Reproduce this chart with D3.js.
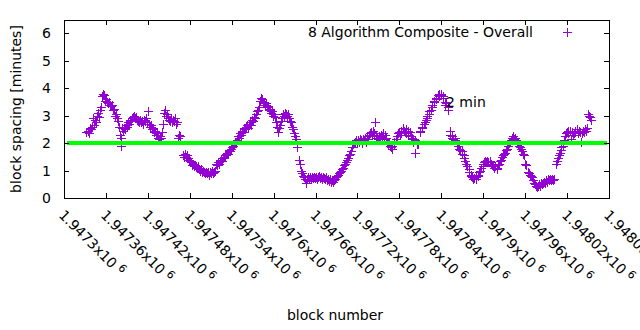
<!DOCTYPE html>
<html>
<head>
<meta charset="utf-8">
<script src="https://cdn.jsdelivr.net/npm/d3@7"></script>
<style>
  html, body { margin: 0; padding: 0; background: #fff; }
  svg { display: block; }
  text { font-family: "DejaVu Sans", sans-serif; fill: #000; }
</style>
</head>
<body>
<svg id="chart" width="640" height="330"></svg>
<script>
// ---------------- data ----------------
const seriesName = "8 Algorithm Composite - Overall";
const refValue = 2;
const refLabel = "2 min";
const xLabel = "block number";
const yLabel = "block spacing [minutes]";

const blocks = [
1947331,1947334,1947336,1947337,1947339,1947340,1947342,1947343,1947344,1947346,
1947347,1947349,1947350,1947352,1947353,1947354,1947356,1947357,1947359,1947360,
1947362,1947363,1947364,1947366,1947367,1947369,1947370,1947372,1947373,1947374,
1947376,1947377,1947379,1947380,1947381,1947382,1947383,1947384,1947386,1947387,
1947389,1947390,1947392,1947393,1947394,1947396,1947397,1947399,1947400,1947402,
1947403,1947404,1947406,1947407,1947409,1947410,1947412,1947413,1947414,1947416,
1947417,1947419,1947420,1947422,1947423,1947425,1947426,1947427,1947429,1947430,
1947432,1947433,1947435,1947436,1947437,1947439,1947440,1947442,1947443,1947445,
1947446,1947447,1947449,1947450,1947452,1947453,1947455,1947456,1947457,1947459,
1947460,1947462,1947463,1947465,1947466,
1947470,1947472,1947473,1947475,1947476,1947477,1947479,1947480,1947482,1947483,
1947485,1947486,1947487,1947489,1947490,1947492,1947493,1947495,1947496,1947498,
1947499,1947500,1947502,1947503,1947505,1947506,1947507,1947509,1947510,1947512,
1947513,1947515,1947516,1947517,1947519,1947520,1947522,1947523,1947525,1947526,
1947527,1947529,1947530,1947532,1947533,1947535,1947536,1947538,1947539,1947540,
1947542,1947543,1947545,1947546,1947548,1947549,1947550,1947552,1947553,1947555,
1947556,1947558,1947559,1947560,1947562,1947563,1947565,1947566,1947568,1947569,
1947570,1947572,1947573,1947575,1947576,1947578,1947579,1947580,1947582,1947583,
1947585,1947586,1947588,1947589,1947591,1947592,1947593,1947595,1947596,1947598,
1947599,1947601,1947602,1947603,1947605,1947606,1947608,1947609,1947611,1947612,
1947614,1947615,1947616,1947618,1947619,1947621,1947622,1947623,1947625,1947626,
1947628,1947629,1947631,1947632,1947633,
1947636,1947638,1947639,1947641,1947642,1947644,1947645,1947646,1947648,1947649,
1947651,1947652,1947654,1947655,1947656,1947658,1947659,1947661,1947662,1947664,
1947665,1947666,1947668,1947669,1947671,1947672,1947674,1947675,1947676,1947678,
1947679,1947681,1947682,1947684,1947685,1947687,1947688,1947689,1947691,1947692,
1947694,1947695,1947697,1947698,1947699,1947701,1947702,1947704,1947705,1947706,
1947708,1947709,1947711,1947712,1947714,1947715,1947716,1947718,1947719,1947721,
1947722,1947724,1947725,1947726,1947728,1947729,1947731,1947732,1947734,1947735,
1947736,1947738,1947739,1947741,1947742,1947743,1947745,1947746,1947748,1947749,
1947751,1947752,1947753,1947755,1947756,1947758,1947759,1947761,1947762,1947763,
1947765,1947766,1947768,1947769,1947770,1947772,1947773,1947775,1947776,1947778,
1947779,1947781,1947782,1947783,1947785,1947786,1947788,1947789,1947790,1947792,
1947793,1947795,1947796,1947798,1947799,1947800,1947802,1947803,1947805,1947806,
1947807,1947809,1947810,1947812,1947813,1947815,1947816,1947818,1947819,1947820,
1947822,1947823,1947825,1947826,1947827,1947829,1947830,1947832,1947833,1947835,
1947836,1947837,1947839,1947840,1947842,1947843,1947845,1947846,1947847,1947849,
1947850,1947852,1947853,1947855,1947856,1947857,1947859,1947860,1947862,1947863,
1947864,1947866,1947867,1947869,1947870,1947872,1947873,1947874,1947876,1947877,
1947879,1947880,1947882,1947883,1947884,1947886,1947887,1947889,1947890,1947892,
1947893,1947894,1947896,1947897,1947899,1947900,1947901,1947903,1947904,1947906,
1947907,1947909,1947910,1947911,1947913,1947914,1947916,1947917,1947919,1947920,
1947921,1947923,1947924,1947926,1947927,1947929,1947930,1947931,1947933,1947934,
1947936,1947937,1947938,1947940,1947941,1947943,1947944,1947946,1947947,1947948,
1947950,1947951,1947953,1947954,1947956,1947957,1947958,1947960,1947961,
1947964,1947965,1947967,1947968,1947970,1947971,1947972,1947974,1947975,1947977,
1947978,1947980,1947981,1947982,1947984,1947985,1947987,1947988,1947990,1947991,
1947992,1947994,1947995,1947997,1947998,1948000,1948001,
1948004,1948005,1948007,1948008,1948010,1948011,1948012,1948014,1948015,1948017,
1948018,1948020,1948021,1948022,1948024,1948025,1948027,1948028,1948030,1948031,
1948032,1948034,1948035,1948037,1948038,1948040,1948041,1948043,1948044,1948045,
1948047,1948048,1948050,1948051,1948053,1948054
];

const spacing = [
2.40,2.45,2.35,2.55,2.50,2.60,2.90,2.65,2.85,2.75,
3.00,3.10,2.95,3.20,3.30,3.70,3.80,3.75,3.55,3.60,
3.50,3.45,3.50,3.40,3.35,3.40,3.20,3.25,3.00,3.05,
2.90,2.80,2.60,2.30,1.90,2.20,2.55,2.45,2.55,2.50,
2.65,2.60,2.75,2.70,2.85,2.80,2.90,2.95,3.00,2.90,
2.95,2.85,2.80,2.75,2.85,2.75,2.80,2.70,2.85,2.80,
2.90,2.75,3.15,2.70,2.60,2.65,2.50,2.55,2.40,2.45,
2.30,2.35,2.20,2.15,2.25,2.20,2.40,2.70,3.10,3.20,
3.00,3.05,2.90,2.85,2.80,2.90,2.75,2.85,2.80,2.90,
2.70,2.75,2.20,2.30,2.25,
1.55,1.50,1.60,1.50,1.55,1.45,1.40,1.35,1.30,1.20,
1.25,1.15,1.20,1.15,1.10,1.15,1.05,1.00,1.05,0.95,
1.00,0.95,0.90,0.95,0.90,0.95,0.85,0.95,0.90,1.00,
0.90,0.95,1.00,1.25,1.20,1.30,1.25,1.35,1.40,1.35,
1.45,1.50,1.55,1.60,1.65,1.60,1.75,1.70,1.80,1.85,
1.90,1.95,2.00,2.05,2.10,2.25,2.20,2.35,2.30,2.45,
2.40,2.55,2.50,2.60,2.65,2.55,2.70,2.75,2.65,2.85,
2.80,2.95,2.90,3.05,3.15,3.20,3.30,3.55,3.65,3.60,
3.50,3.45,3.40,3.45,3.30,3.35,3.20,3.25,3.10,3.15,
3.00,3.05,2.95,2.75,2.60,2.40,2.55,2.65,2.80,2.90,
3.05,3.00,3.10,3.05,3.00,3.05,2.90,2.80,2.75,2.60,
2.50,2.35,2.25,2.15,1.85,
1.40,1.25,1.00,0.90,0.80,0.75,0.70,0.55,0.70,0.75,
0.70,0.75,0.70,0.75,0.72,0.78,0.72,0.75,0.70,0.75,
0.80,0.72,0.78,0.70,0.75,0.72,0.68,0.75,0.65,0.70,
0.62,0.70,0.60,0.65,0.58,0.65,0.70,0.75,0.80,0.85,
0.90,0.95,1.00,1.05,1.10,1.20,1.25,1.30,1.40,1.45,
1.55,1.60,1.70,1.85,1.95,2.00,2.05,2.10,2.00,2.10,
2.05,2.15,2.10,2.00,2.15,2.10,2.20,2.05,2.25,2.15,
2.30,2.35,2.40,2.30,2.45,2.35,2.75,2.25,2.20,2.15,
2.25,2.20,2.30,2.25,2.35,2.15,2.30,2.20,2.05,1.95,
2.00,1.90,1.85,1.80,1.90,1.95,2.05,2.15,2.25,2.35,
2.40,2.30,2.45,2.35,2.55,2.45,2.40,2.50,2.35,2.45,
2.30,2.40,2.25,2.20,2.15,2.05,1.65,2.10,1.95,2.00,
1.95,2.40,2.45,2.55,2.60,2.70,2.75,2.85,2.90,3.00,
3.05,3.15,3.20,3.30,3.40,3.50,3.55,3.65,3.60,3.75,
3.70,3.80,3.75,3.80,3.70,3.65,3.50,3.40,3.45,3.30,
3.20,2.45,2.30,2.25,2.20,2.15,2.20,2.10,2.05,1.95,
1.90,1.80,1.75,1.70,1.60,1.55,1.45,1.35,1.25,1.15,
1.05,0.95,0.85,0.80,0.75,0.70,0.72,0.70,0.75,0.80,
0.85,0.95,1.00,1.10,1.15,1.25,1.30,1.35,1.30,1.35,
1.30,1.35,1.30,1.25,1.20,1.15,1.10,1.15,1.05,1.10,
1.20,1.25,1.35,1.40,1.50,1.55,1.60,1.65,1.75,1.80,
1.90,2.00,2.05,2.10,2.20,2.25,2.15,2.20,2.10,2.05,
1.95,1.90,1.85,1.80,1.70,1.60,1.55,1.25,1.20,
0.95,0.90,0.85,0.80,0.75,0.65,0.55,0.50,0.45,0.40,
0.45,0.50,0.45,0.55,0.50,0.55,0.60,0.55,0.65,0.60,
0.70,0.65,0.70,0.65,0.70,0.65,0.70,
1.25,1.35,1.45,1.55,1.65,1.75,1.85,1.90,2.10,2.25,
2.35,2.40,2.45,2.35,2.45,2.15,2.40,2.30,2.35,2.45,
2.40,2.50,2.35,2.45,2.40,2.05,2.35,2.45,2.40,2.50,
2.45,2.55,3.05,3.00,2.95,2.85
];

const xDomain = [1947300, 1948080];
const yDomain = [0, 6.5];
const xTickValues = [1947300,1947360,1947420,1947480,1947540,1947600,1947660,
                     1947720,1947780,1947840,1947900,1947960,1948020,1948080];
const xTickMantissas = ["1.9473","1.94736","1.94742","1.94748","1.94754","1.9476","1.94766",
                        "1.94772","1.94778","1.94784","1.9479","1.94796","1.94802","1.94808"];
const yTickValues = [0,1,2,3,4,5,6];

// ---------------- drawing ----------------
(function draw() {
const svg = d3.select("#chart");
const mLeft = 64, mRight = 609, mTop = 19.5, mBottom = 198;
const purple = "#9400d3";
const green = "#00ff00";
const fontSize = 14;

const x = d3.scaleLinear().domain(xDomain).range([mLeft, mRight]);
const y = d3.scaleLinear().domain(yDomain).range([mBottom, mTop]);

const tickLen = 5;

// points as "+"
const pts = blocks.map((b, i) => [b, spacing[i]]);
const plus = svg.append("g").attr("stroke", purple).attr("stroke-width", 1)
  .attr("shape-rendering", "crispEdges");
plus.selectAll("path").data(pts).join("path")
  .attr("d", d => {
    const cx = Math.round(x(d[0])) + 0.5, cy = Math.round(y(d[1])) + 0.5;
    return `M${cx-4.5},${cy}H${cx+4.5}M${cx},${cy-4.5}V${cy+4.5}`;
  });

// reference line y = 2 (drawn over the points)
svg.append("line")
  .attr("x1", x(xDomain[0]) + 3).attr("x2", x(xDomain[1]) - 2)
  .attr("y1", y(refValue)).attr("y2", y(refValue))
  .attr("stroke", green).attr("stroke-width", 4);

// frame
svg.append("rect")
  .attr("x", mLeft + 0.5).attr("y", mTop + 0.5)
  .attr("width", mRight - mLeft).attr("height", mBottom - mTop - 0.5)
  .attr("fill", "none").attr("stroke", "#000").attr("stroke-width", 1)
  .attr("shape-rendering", "crispEdges");

// axes via d3
const xAxisB = d3.axisBottom(x).tickValues(xTickValues).tickSize(-tickLen).tickFormat("");
const xAxisT = d3.axisTop(x).tickValues(xTickValues).tickSize(-tickLen).tickFormat("");
const yAxisL = d3.axisLeft(y).tickValues(yTickValues).tickSize(-tickLen).tickPadding(13).tickFormat(d3.format("d"));
const yAxisR = d3.axisRight(y).tickValues(yTickValues).tickSize(-tickLen).tickFormat("");

function styleAxis(g) {
  g.select(".domain").remove();
  g.selectAll("line").attr("stroke", "#000").attr("shape-rendering", "crispEdges");
}
svg.append("g").attr("transform", `translate(0,${mBottom})`).call(xAxisB).call(styleAxis);
svg.append("g").attr("transform", `translate(0,${mTop})`).call(xAxisT).call(styleAxis);
const gyl = svg.append("g").attr("transform", `translate(${mLeft},0)`).call(yAxisL).call(styleAxis);
gyl.selectAll("text").attr("font-size", fontSize).attr("font-family", "DejaVu Sans, sans-serif").attr("fill", "#000");
svg.append("g").attr("transform", `translate(${mRight},0)`).call(yAxisR).call(styleAxis);

// rotated x tick labels with superscript exponent
const xl = svg.append("g").selectAll("text").data(xTickValues).join("text")
  .attr("transform", d => `translate(${x(d) - 6},${216}) rotate(45)`)
  .attr("font-size", fontSize);
xl.append("tspan").text((d, i) => xTickMantissas[i] + "x10");
xl.append("tspan").attr("dx", 4).attr("dy", -5).attr("font-size", 11).text("6");

// axis titles
svg.append("text").attr("x", 335).attr("y", 320).attr("text-anchor", "middle")
  .attr("font-size", fontSize).text(xLabel);
svg.append("text").attr("transform", "translate(21,109) rotate(-90)").attr("text-anchor", "middle")
  .attr("font-size", fontSize).text(yLabel);

// legend
svg.append("text").attr("x", 533).attr("y", 37).attr("text-anchor", "end")
  .attr("font-size", fontSize).text(seriesName);
svg.append("path").attr("stroke", purple).attr("stroke-width", 1).attr("shape-rendering", "crispEdges")
  .attr("d", "M563,32.5H572M567.5,28V37");

// reference label
svg.append("text").attr("x", 446).attr("y", 107).attr("font-size", fontSize).text(refLabel);
})();
</script>
</body>
</html>
